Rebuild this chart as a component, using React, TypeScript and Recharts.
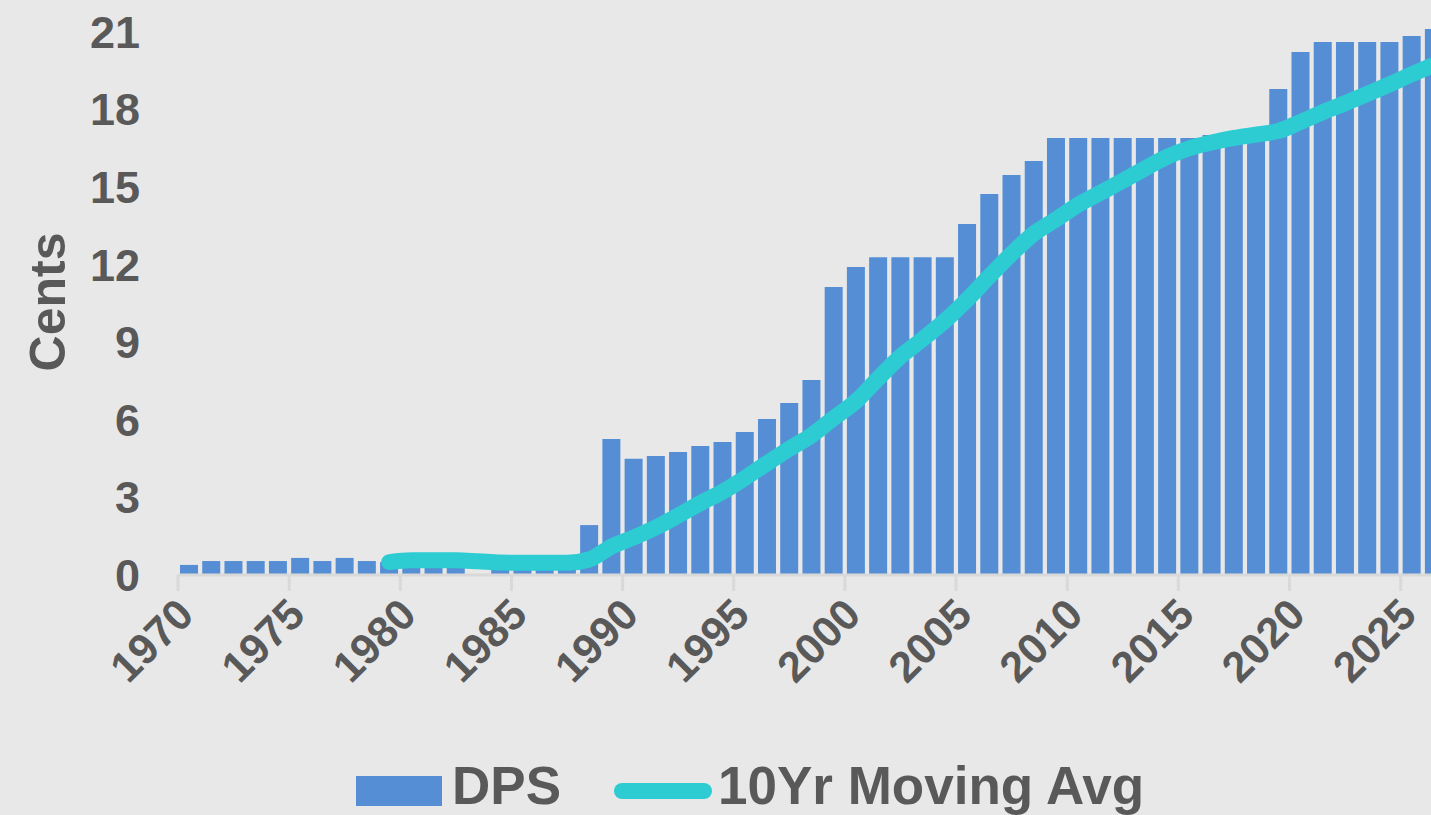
import React from "react";
import {
    ComposedChart, Bar, Line, XAxis, YAxis, Legend,
} from "recharts";

// mid-year points, one per financial year
const YEARS = [
    1970, 1971, 1972, 1973, 1974, 1975, 1976, 1977, 1978, 1979,
    1980, 1981, 1982, 1983, 1984, 1985, 1986, 1987, 1988, 1989,
    1990, 1991, 1992, 1993, 1994, 1995, 1996, 1997, 1998, 1999,
    2000, 2001, 2002, 2003, 2004, 2005, 2006, 2007, 2008, 2009,
    2010, 2011, 2012, 2013, 2014, 2015, 2016, 2017, 2018, 2019,
    2020, 2021, 2022, 2023, 2024, 2025, 2026,
];

const DPS = [
    0.39, 0.54, 0.54, 0.54, 0.54, 0.66, 0.54, 0.66, 0.54, 0.5,
    0.55, 0.55, 0.55, null, 0.45, 0.45, 0.45, 0.45, 1.93, 5.26,
    4.49, 4.6, 4.76, 4.99, 5.14, 5.53, 6.03, 6.65, 7.54, 11.14,
    11.91, 12.29, 12.29, 12.29, 12.29, 13.57, 14.73, 15.47, 16.01, 16.9,
    16.9, 16.9, 16.9, 16.9, 16.9, 16.9, 17.01, 17.1, 17.15, 18.79,
    20.22, 20.61, 20.61, 20.61, 20.61, 20.84, 21.11,
];

const MOVING_AVG = [
    null, null, null, null, null, null, null, null, null, 0.5,
    0.57, 0.57, 0.57, 0.53, 0.48, 0.47, 0.47, 0.47, 0.6, 1.1,
    1.45, 1.84, 2.3, 2.78, 3.22, 3.75, 4.32, 4.88, 5.4, 6.07,
    6.72, 7.6, 8.45, 9.12, 9.83, 10.65, 11.55, 12.42, 13.2, 13.75,
    14.32, 14.78, 15.24, 15.72, 16.17, 16.5, 16.72, 16.9, 17.03, 17.17,
    17.52, 17.9, 18.24, 18.6, 18.97, 19.36, 19.72,
];

const X_TICKS = [1970, 1975, 1980, 1985, 1990, 1995, 2000, 2005, 2010, 2015, 2020, 2025];
const Y_TICKS = [0, 3, 6, 9, 12, 15, 18, 21];

const BAR_COLOR = "#558ed5";
const LINE_COLOR = "#2dccd3";
const TEXT_COLOR = "#595959";
const AXIS_COLOR = "#d9d9d9";
const BG = "#e8e8e8";
const FONT = "'Liberation Sans', Arial, sans-serif";

const data = YEARS.map((year, i) => ({
    x: year + 0.5,
    dps: DPS[i],
    avg: MOVING_AVG[i],
}));

function XTick({ x, y, payload }: any) {
    const ax = x + 18;
    const ay = y + 24;
    return (
        <text
            x={ax}
            y={ay}
            transform={`rotate(-45 ${ax} ${ay})`}
            textAnchor="end"
            fontSize={43}
            fontWeight={700}
            fontFamily={FONT}
            fill={TEXT_COLOR}
        >
            {payload.value}
        </text>
    );
}

function YTick({ x, y, payload }: any) {
    return (
        <text
            x={x - 30}
            y={y}
            dy="0.355em"
            textAnchor="end"
            fontSize={45}
            fontWeight={700}
            fontFamily={FONT}
            fill={TEXT_COLOR}
        >
            {payload.value}
        </text>
    );
}

function YTitle() {
    // rotated axis title, centred on (47, 302)
    return (
        <text
            x={0}
            y={0}
            dy="0.355em"
            transform="translate(47 302) rotate(-90)"
            textAnchor="middle"
            fontSize={50}
            fontWeight={700}
            fontFamily={FONT}
            fill={TEXT_COLOR}
        >
            Cents
        </text>
    );
}

function LegendContent() {
    return (
        <svg width={1431} height={60} style={{ display: "block", overflow: "visible" }}>
            <rect x={356} y={21} width={86} height={30} fill={BAR_COLOR} />
            <text x={452} y={49} fontSize={53} fontWeight={700} fontFamily={FONT} fill={TEXT_COLOR}>
                DPS
            </text>
            <line x1={622} y1={36} x2={704} y2={36} stroke={LINE_COLOR} strokeWidth={16} strokeLinecap="round" />
            <text x={718} y={49} fontSize={53} fontWeight={700} fontFamily={FONT} fill={TEXT_COLOR}>
                10Yr Moving Avg
            </text>
        </svg>
    );
}

export default function App() {
    return (
        <div style={{ position: "absolute", left: 0, top: 0, width: 1431, height: 815, background: BG, overflow: "hidden" }}>
            <ComposedChart width={1431} height={815} data={data} margin={{ top: 6, right: 0, bottom: 140, left: 0 }}>
                <XAxis
                    dataKey="x"
                    type="number"
                    domain={[1970, 2026.365]}
                    allowDataOverflow
                    ticks={X_TICKS}
                    interval={0}
                    height={100}
                    tick={<XTick />}
                    tickSize={16}
                    tickLine={{ stroke: AXIS_COLOR, strokeWidth: 3 }}
                    axisLine={{ stroke: AXIS_COLOR, strokeWidth: 3 }}
                />
                <YAxis
                    domain={[0, 22]}
                    ticks={Y_TICKS}
                    interval={0}
                    width={178}
                    axisLine={false}
                    tickLine={false}
                    tick={<YTick />}
                    label={() => <YTitle />}
                />
                <Legend
                    layout="horizontal"
                    verticalAlign="middle"
                    align="center"
                    content={<LegendContent />}
                    wrapperStyle={{ top: 755, left: 0, width: 1431, height: 60 }}
                />
                <Bar dataKey="dps" name="DPS" fill={BAR_COLOR} barSize={18} isAnimationActive={false} />
                <Line
                    dataKey="avg"
                    name="10Yr Moving Avg"
                    type="monotone"
                    stroke={LINE_COLOR}
                    strokeWidth={16}
                    strokeLinecap="round"
                    dot={false}
                    activeDot={false}
                    isAnimationActive={false}
                />
            </ComposedChart>
        </div>
    );
}
